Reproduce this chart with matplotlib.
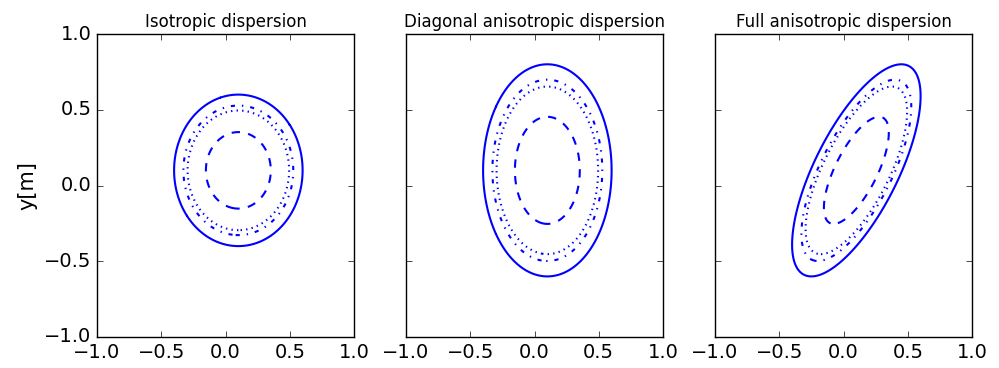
import numpy as np
import matplotlib
matplotlib.use('Agg')
import matplotlib.pyplot as plt

plt.style.use('classic')
plt.rcParams['figure.facecolor'] = 'white'
plt.rcParams['savefig.facecolor'] = 'white'

# panel titles
titles = ['Isotropic dispersion', 'Diagonal anisotropic dispersion', 'Full anisotropic dispersion']

# centre of the distribution
centre = [0.1, 0.1]

# standard deviations and correlation for each panel
sigma_x = [0.5, 0.5, 0.5]
sigma_y = [0.5, 0.7, 0.7]
rho = [0.0, 0.0, 0.7]

# contour levels (Mahalanobis radius) and their line styles
levels = [0.505, 0.79, 0.855, 1.0]
styles = ['dashed', 'dotted', 'dashdot', 'solid']

ticks = [-1.0, -0.5, 0.0, 0.5, 1.0]

fig = plt.figure(figsize=(9.99, 3.68), dpi=100)

x = np.linspace(-1, 1, 401)
X, Y = np.meshgrid(x, x)

for ii in range(3):

	ax = fig.add_axes([(97 + ii * 309) / 999., (368 - 337) / 368., 257 / 999., 303 / 368.])

	cov = np.array([[sigma_x[ii] ** 2, rho[ii] * sigma_x[ii] * sigma_y[ii]],
	                [rho[ii] * sigma_x[ii] * sigma_y[ii], sigma_y[ii] ** 2]])
	inv = np.linalg.inv(cov)
	dx = X - centre[0]
	dy = Y - centre[1]
	D = np.sqrt(inv[0, 0] * dx ** 2 + 2 * inv[0, 1] * dx * dy + inv[1, 1] * dy ** 2)

	ax.contour(X, Y, D, levels=levels, colors='b', linestyles=styles, linewidths=1.5)

	ax.set_xlim(-1, 1)
	ax.set_ylim(-1, 1)
	ax.set_xticks(ticks)
	ax.set_yticks(ticks)
	ax.tick_params(labelsize=14)
	ax.set_title(titles[ii], fontsize=12)

	if ii == 0:
		ax.set_ylabel('y[m]', fontsize=15)
	else:
		ax.set_yticklabels([])

plt.savefig('out.png', dpi=100)
